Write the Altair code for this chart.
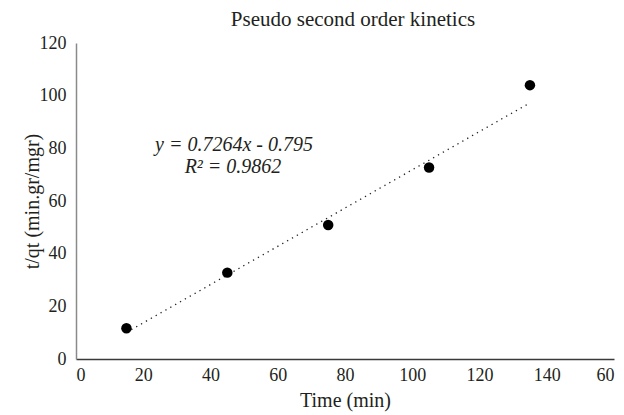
import altair as alt
import pandas as pd

# ---- data ----
time_min = [15, 45, 75, 105, 135]
t_over_qt = [11.7, 32.8, 50.9, 72.7, 104.0]
x_ticks = [0, 20, 40, 60, 80, 100, 120, 140, 160]
y_ticks = [0, 20, 40, 60, 80, 100, 120]
slope = 0.7264
intercept = -0.795
equation_lines = ["y = 0.7264x - 0.795", "R² = 0.9862"]
chart_title = "Pseudo second order kinetics"
x_title = "Time (min)"
y_title = "t/qt (min.gr/mgr)"

FONT = "Liberation Serif"
TXT = "#231f20"

df = pd.DataFrame({"time": time_min, "tq": t_over_qt})

x_enc = alt.X(
    "time:Q",
    scale=alt.Scale(domain=[0, 160], nice=False, zero=True),
    axis=alt.Axis(
        values=x_ticks,
        title=x_title,
        labelExpr="datum.value == 160 ? '60' : datum.label",
        domainColor="#3a3a3a",
        domainWidth=1.5,
        ticks=False,
        grid=False,
        labelPadding=7,
        titlePadding=6,
        labelFont=FONT, titleFont=FONT, labelFontSize=18, titleFontSize=20,
        labelColor=TXT, titleColor=TXT, titleFontWeight="normal",
    ),
)
y_enc = alt.Y(
    "tq:Q",
    scale=alt.Scale(domain=[0, 120], nice=False),
    axis=alt.Axis(
        values=y_ticks,
        title=y_title,
        domainColor="#8a8a8a",
        domainWidth=1.5,
        ticks=False,
        grid=False,
        labelPadding=10,
        titlePadding=-3,
        labelFont=FONT, titleFont=FONT, labelFontSize=18, titleFontSize=20,
        labelColor=TXT, titleColor=TXT, titleFontWeight="normal",
    ),
)

base = alt.Chart(df)

trend = (
    base.transform_calculate(tq=f"{slope} * datum.time + ({intercept})")
    .mark_line(color="#222222", strokeWidth=1.3, strokeDash=[1.3, 4.3])
    .encode(x=x_enc, y=y_enc)
)

points = base.mark_circle(size=110, color="black", opacity=1).encode(x=x_enc, y=y_enc)

eq1 = (
    alt.Chart(pd.DataFrame({"t": [equation_lines[0]]}))
    .mark_text(font=FONT, fontSize=20, fontStyle="italic", color=TXT, align="center", baseline="middle")
    .encode(text="t:N", x=alt.value(158), y=alt.value(102))
)
eq2 = (
    alt.Chart(pd.DataFrame({"t": [equation_lines[1]]}))
    .mark_text(font=FONT, fontSize=20, fontStyle="italic", color=TXT, align="center", baseline="middle")
    .encode(text="t:N", x=alt.value(157), y=alt.value(124))
)

chart = (
    alt.layer(trend, points, eq1, eq2)
    .properties(
        width=538,
        height=316,
        background="white",
        title=alt.TitleParams(
            chart_title, font=FONT, fontSize=21, fontWeight="normal", color=TXT,
            anchor="middle", offset=4, dx=8,
        ),
        autosize=alt.AutoSizeParams(type="none"),
        padding={"left": 76, "top": 43, "right": 10, "bottom": 56},
    )
    .configure_view(stroke=None)
)

chart.save("out.html", embed_options={"renderer": "svg", "actions": False})
